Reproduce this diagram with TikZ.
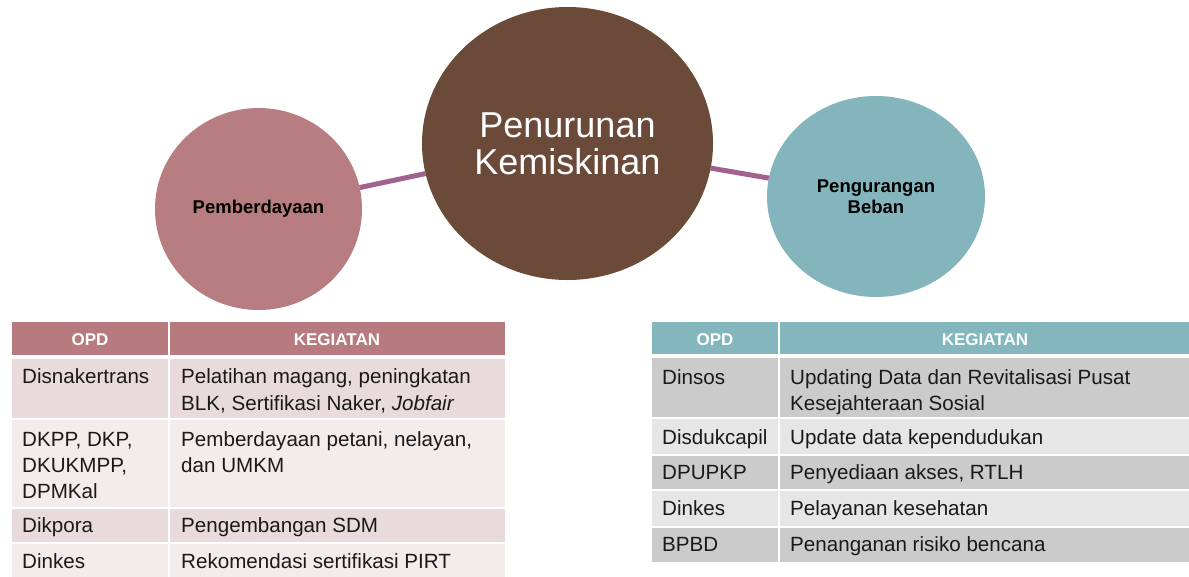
\documentclass[tikz,border=0pt]{standalone}
\usepackage{fontspec}
\setmainfont{Liberation Sans}
\usetikzlibrary{shapes.geometric}
\definecolor{pinkc}{HTML}{B87D80}
\definecolor{brownc}{HTML}{6B4A3A}
\definecolor{tealc}{HTML}{85B5BC}
\definecolor{linkc}{HTML}{A2628F}
\definecolor{lhead}{HTML}{B77B7F}
\definecolor{ldark}{HTML}{E9DBDC}
\definecolor{llight}{HTML}{F3ECEC}
\definecolor{rhead}{HTML}{84B6BD}
\definecolor{rdark}{HTML}{CBCBCB}
\definecolor{rlight}{HTML}{E6E6E6}
\definecolor{txtc}{HTML}{1A1A1A}
\begin{document}
\begin{tikzpicture}[x=1pt,y=-1pt,
  bubble/.style={ellipse, inner sep=0pt, outer sep=0pt, align=center},
  link/.style={draw=linkc, line width=5pt},
  txt/.style={anchor=base west, inner sep=0pt, text=txtc, font=\fontsize{20.6}{26}\selectfont},
  head/.style={anchor=center, inner sep=0pt, text=white, font=\bfseries\fontsize{17}{20}\selectfont},
  small/.style={font=\bfseries\fontsize{18.5}{21}\selectfont, text=black}]
\useasboundingbox (0,0) rectangle (1189,576);
\fill[white] (0,0) rectangle (1189,576);

% bubbles
\node[bubble, fill=pinkc, minimum width=207pt, minimum height=202pt, small] (pem) at (258.5,209) {Pemberdayaan};
\node[bubble, fill=brownc, minimum width=291pt, minimum height=273pt, text=white, font=\fontsize{36}{37}\selectfont] (pen) at (567.5,143.5) {Penurunan\\Kemiskinan};
\node[bubble, fill=tealc, minimum width=218pt, minimum height=201pt, small] (peb) at (876,196.5) {Pengurangan\\Beban};
\draw[link] (pem) -- (pen);
\draw[link] (pen) -- (peb);

% left table
\fill[lhead] (12,322) rectangle (168,355);
\fill[lhead] (170,322) rectangle (505,355);
\fill[ldark] (12,359) rectangle (168,418);
\fill[ldark] (170,359) rectangle (505,418);
\fill[llight] (12,420) rectangle (168,507);
\fill[llight] (170,420) rectangle (505,507);
\fill[ldark] (12,509) rectangle (168,542);
\fill[ldark] (170,509) rectangle (505,542);
\fill[llight] (12,544) rectangle (168,580);
\fill[llight] (170,544) rectangle (505,580);
\node[head] (lh1) at (90,340) {OPD};
\node[head] (lh2) at (337,340) {KEGIATAN};
\node[txt] (l1a) at (22,383) {Disnakertrans};
\node[txt] (l1b) at (181,383) {Pelatihan magang, peningkatan};
\node[txt] (l1c) at (181,410) {BLK, Sertifikasi Naker, \textit{Jobfair}};
\node[txt] (l2a) at (22,446) {DKPP, DKP,};
\node[txt] (l2b) at (22,472) {DKUKMPP,};
\node[txt] (l2c) at (22,498) {DPMKal};
\node[txt] (l2d) at (181,446) {Pemberdayaan petani, nelayan,};
\node[txt] (l2e) at (181,472) {dan UMKM};
\node[txt] (l3a) at (22,532) {Dikpora};
\node[txt] (l3b) at (181,532) {Pengembangan SDM};
\node[txt] (l4a) at (22,568) {Dinkes};
\node[txt] (l4b) at (181,568) {Rekomendasi sertifikasi PIRT};

% right table
\fill[rhead] (652,322) rectangle (778,354);
\fill[rhead] (780,322) rectangle (1189,354);
\fill[rdark] (652,358) rectangle (778,417);
\fill[rdark] (780,358) rectangle (1189,417);
\fill[rlight] (652,419) rectangle (778,454);
\fill[rlight] (780,419) rectangle (1189,454);
\fill[rdark] (652,456) rectangle (778,489);
\fill[rdark] (780,456) rectangle (1189,489);
\fill[rlight] (652,491) rectangle (778,526);
\fill[rlight] (780,491) rectangle (1189,526);
\fill[rdark] (652,528) rectangle (778,562);
\fill[rdark] (780,528) rectangle (1189,562);
\node[head] (rh1) at (715,340) {OPD};
\node[head] (rh2) at (985,340) {KEGIATAN};
\node[txt] (r1a) at (662,384) {Dinsos};
\node[txt] (r1b) at (790,384) {Updating Data dan Revitalisasi Pusat};
\node[txt] (r1c) at (790,410) {Kesejahteraan Sosial};
\node[txt] (r2a) at (662,444) {Disdukcapil};
\node[txt] (r2b) at (790,444) {Update data kependudukan};
\node[txt] (r3a) at (662,479) {DPUPKP};
\node[txt] (r3b) at (790,479) {Penyediaan akses, RTLH};
\node[txt] (r4a) at (662,515) {Dinkes};
\node[txt] (r4b) at (790,515) {Pelayanan kesehatan};
\node[txt] (r5a) at (662,551) {BPBD};
\node[txt] (r5b) at (790,551) {Penanganan risiko bencana};
\end{tikzpicture}
\end{document}
